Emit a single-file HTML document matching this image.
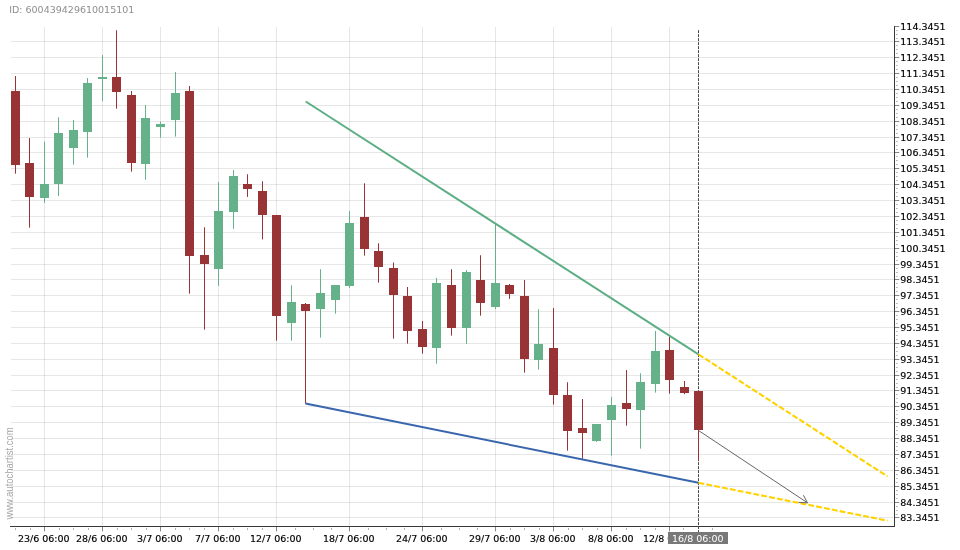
<!DOCTYPE html><html><head><meta charset="utf-8"><title>Chart</title><style>html,body{margin:0;padding:0;background:#fff;overflow:hidden}svg{display:block;will-change:transform}text{font-family:"DejaVu Sans","Liberation Sans",sans-serif}</style></head><body>
<svg width="960" height="550" viewBox="0 0 960 550">
<rect width="960" height="550" fill="#fff"/>
<g shape-rendering="crispEdges" stroke="#000" stroke-opacity="0.095" stroke-width="1">
<line x1="11" y1="41.5" x2="894" y2="41.5"/>
<line x1="11" y1="57.5" x2="894" y2="57.5"/>
<line x1="11" y1="73.5" x2="894" y2="73.5"/>
<line x1="11" y1="89.5" x2="894" y2="89.5"/>
<line x1="11" y1="105.5" x2="894" y2="105.5"/>
<line x1="11" y1="121.5" x2="894" y2="121.5"/>
<line x1="11" y1="137.5" x2="894" y2="137.5"/>
<line x1="11" y1="152.5" x2="894" y2="152.5"/>
<line x1="11" y1="168.5" x2="894" y2="168.5"/>
<line x1="11" y1="184.5" x2="894" y2="184.5"/>
<line x1="11" y1="200.5" x2="894" y2="200.5"/>
<line x1="11" y1="216.5" x2="894" y2="216.5"/>
<line x1="11" y1="232.5" x2="894" y2="232.5"/>
<line x1="11" y1="248.5" x2="894" y2="248.5"/>
<line x1="11" y1="264.5" x2="894" y2="264.5"/>
<line x1="11" y1="279.5" x2="894" y2="279.5"/>
<line x1="11" y1="295.5" x2="894" y2="295.5"/>
<line x1="11" y1="311.5" x2="894" y2="311.5"/>
<line x1="11" y1="327.5" x2="894" y2="327.5"/>
<line x1="11" y1="343.5" x2="894" y2="343.5"/>
<line x1="11" y1="359.5" x2="894" y2="359.5"/>
<line x1="11" y1="375.5" x2="894" y2="375.5"/>
<line x1="11" y1="390.5" x2="894" y2="390.5"/>
<line x1="11" y1="406.5" x2="894" y2="406.5"/>
<line x1="11" y1="422.5" x2="894" y2="422.5"/>
<line x1="11" y1="438.5" x2="894" y2="438.5"/>
<line x1="11" y1="454.5" x2="894" y2="454.5"/>
<line x1="11" y1="470.5" x2="894" y2="470.5"/>
<line x1="11" y1="486.5" x2="894" y2="486.5"/>
<line x1="11" y1="502.5" x2="894" y2="502.5"/>
<line x1="11" y1="517.5" x2="894" y2="517.5"/>
<line x1="44.5" y1="27" x2="44.5" y2="526"/>
<line x1="102.5" y1="27" x2="102.5" y2="526"/>
<line x1="160.5" y1="27" x2="160.5" y2="526"/>
<line x1="218.5" y1="27" x2="218.5" y2="526"/>
<line x1="276.5" y1="27" x2="276.5" y2="526"/>
<line x1="349.5" y1="27" x2="349.5" y2="526"/>
<line x1="422.5" y1="27" x2="422.5" y2="526"/>
<line x1="495.5" y1="27" x2="495.5" y2="526"/>
<line x1="553.5" y1="27" x2="553.5" y2="526"/>
<line x1="611.5" y1="27" x2="611.5" y2="526"/>
<line x1="669.5" y1="27" x2="669.5" y2="526"/>
</g>
<text transform="translate(13.2,519.6) rotate(-90) scale(1,1.17)" font-size="9.5" fill="#a4a4a4" style="font-family:'Liberation Sans',sans-serif">www.autochartist.com</text>
<line x1="698.5" y1="30.2" x2="698.5" y2="532" stroke="#484848" stroke-width="1" stroke-dasharray="2.9 1.1"/>
<g shape-rendering="crispEdges">
<rect x="15.0" y="76.0" width="1" height="97.65" fill="#983336" shape-rendering="auto"/><rect x="11" y="91" width="9" height="74" fill="#983336"/>
<rect x="29.0" y="138.0" width="1" height="89.65" fill="#983336" shape-rendering="auto"/><rect x="25" y="163" width="9" height="34" fill="#983336"/>
<rect x="44.0" y="141.75" width="1" height="61.15" fill="#65B28A" shape-rendering="auto"/><rect x="40" y="184" width="9" height="14" fill="#65B28A"/>
<rect x="58.0" y="117.25" width="1" height="78.65" fill="#65B28A" shape-rendering="auto"/><rect x="54" y="133" width="9" height="51" fill="#65B28A"/>
<rect x="73.0" y="120.0" width="1" height="44.65" fill="#65B28A" shape-rendering="auto"/><rect x="69" y="130" width="9" height="18" fill="#65B28A"/>
<rect x="87.0" y="78.0" width="1" height="79.65" fill="#65B28A" shape-rendering="auto"/><rect x="83" y="83" width="9" height="49" fill="#65B28A"/>
<rect x="102.0" y="55.0" width="1" height="46.15" fill="#65B28A" shape-rendering="auto"/><rect x="98" y="77" width="9" height="2" fill="#65B28A"/>
<rect x="116.0" y="30.25" width="1" height="78.40" fill="#983336" shape-rendering="auto"/><rect x="112" y="77" width="9" height="15" fill="#983336"/>
<rect x="131.0" y="91.0" width="1" height="80.65" fill="#983336" shape-rendering="auto"/><rect x="127" y="95" width="9" height="68" fill="#983336"/>
<rect x="145.0" y="105.0" width="1" height="74.65" fill="#65B28A" shape-rendering="auto"/><rect x="141" y="118" width="9" height="46" fill="#65B28A"/>
<rect x="160.0" y="121.75" width="1" height="15.90" fill="#65B28A" shape-rendering="auto"/><rect x="156" y="124" width="9" height="3" fill="#65B28A"/>
<rect x="175.0" y="72.0" width="1" height="64.65" fill="#65B28A" shape-rendering="auto"/><rect x="171" y="93" width="9" height="27" fill="#65B28A"/>
<rect x="189.0" y="86.0" width="1" height="207.65" fill="#983336" shape-rendering="auto"/><rect x="185" y="91" width="9" height="165" fill="#983336"/>
<rect x="204.0" y="227.25" width="1" height="102.40" fill="#983336" shape-rendering="auto"/><rect x="200" y="255" width="9" height="9" fill="#983336"/>
<rect x="218.0" y="182.0" width="1" height="103.90" fill="#65B28A" shape-rendering="auto"/><rect x="214" y="211" width="9" height="58" fill="#65B28A"/>
<rect x="233.0" y="170.0" width="1" height="58.90" fill="#65B28A" shape-rendering="auto"/><rect x="229" y="176" width="9" height="36" fill="#65B28A"/>
<rect x="247.0" y="174.25" width="1" height="22.65" fill="#983336" shape-rendering="auto"/><rect x="243" y="184" width="9" height="5" fill="#983336"/>
<rect x="262.0" y="181.25" width="1" height="58.15" fill="#983336" shape-rendering="auto"/><rect x="258" y="191" width="9" height="24" fill="#983336"/>
<rect x="276.0" y="215" width="1" height="125.65" fill="#983336" shape-rendering="auto"/><rect x="272" y="215" width="9" height="101" fill="#983336"/>
<rect x="291.0" y="285.25" width="1" height="55.40" fill="#65B28A" shape-rendering="auto"/><rect x="287" y="302" width="9" height="21" fill="#65B28A"/>
<rect x="305.0" y="303.0" width="1" height="100.65" fill="#983336" shape-rendering="auto"/><rect x="301" y="304" width="9" height="7" fill="#983336"/>
<rect x="320.0" y="269.25" width="1" height="68.40" fill="#65B28A" shape-rendering="auto"/><rect x="316" y="293" width="9" height="16" fill="#65B28A"/>
<rect x="335.0" y="285" width="1" height="28.65" fill="#65B28A" shape-rendering="auto"/><rect x="331" y="285" width="9" height="15" fill="#65B28A"/>
<rect x="349.0" y="211.0" width="1" height="76.90" fill="#65B28A" shape-rendering="auto"/><rect x="345" y="223" width="9" height="63" fill="#65B28A"/>
<rect x="364.0" y="183.25" width="1" height="72.40" fill="#983336" shape-rendering="auto"/><rect x="360" y="217" width="9" height="32" fill="#983336"/>
<rect x="378.0" y="243.25" width="1" height="39.40" fill="#983336" shape-rendering="auto"/><rect x="374" y="251" width="9" height="16" fill="#983336"/>
<rect x="393.0" y="262.5" width="1" height="76.15" fill="#983336" shape-rendering="auto"/><rect x="389" y="268" width="9" height="27" fill="#983336"/>
<rect x="407.0" y="287.0" width="1" height="56.65" fill="#983336" shape-rendering="auto"/><rect x="403" y="296" width="9" height="35" fill="#983336"/>
<rect x="422.0" y="321.0" width="1" height="32.65" fill="#983336" shape-rendering="auto"/><rect x="418" y="329" width="9" height="18" fill="#983336"/>
<rect x="436.0" y="278.0" width="1" height="85.65" fill="#65B28A" shape-rendering="auto"/><rect x="432" y="283" width="9" height="65" fill="#65B28A"/>
<rect x="451.0" y="269.25" width="1" height="66.40" fill="#983336" shape-rendering="auto"/><rect x="447" y="285" width="9" height="43" fill="#983336"/>
<rect x="466.0" y="270.0" width="1" height="73.90" fill="#65B28A" shape-rendering="auto"/><rect x="462" y="272" width="9" height="56" fill="#65B28A"/>
<rect x="480.0" y="255.25" width="1" height="60.40" fill="#983336" shape-rendering="auto"/><rect x="476" y="280" width="9" height="23" fill="#983336"/>
<rect x="495.0" y="223.25" width="1" height="85.90" fill="#65B28A" shape-rendering="auto"/><rect x="491" y="283" width="9" height="24" fill="#65B28A"/>
<rect x="509.0" y="284.0" width="1" height="14.90" fill="#983336" shape-rendering="auto"/><rect x="505" y="285" width="9" height="9" fill="#983336"/>
<rect x="524.0" y="280.0" width="1" height="92.65" fill="#983336" shape-rendering="auto"/><rect x="520" y="296" width="9" height="63" fill="#983336"/>
<rect x="538.0" y="309.25" width="1" height="60.40" fill="#65B28A" shape-rendering="auto"/><rect x="534" y="344" width="9" height="16" fill="#65B28A"/>
<rect x="553.0" y="308.0" width="1" height="96.65" fill="#983336" shape-rendering="auto"/><rect x="549" y="348" width="9" height="47" fill="#983336"/>
<rect x="567.0" y="382.25" width="1" height="68.40" fill="#983336" shape-rendering="auto"/><rect x="563" y="395" width="9" height="36" fill="#983336"/>
<rect x="582.0" y="399.0" width="1" height="59.65" fill="#983336" shape-rendering="auto"/><rect x="578" y="428" width="9" height="5" fill="#983336"/>
<rect x="596.0" y="424" width="1" height="17.90" fill="#65B28A" shape-rendering="auto"/><rect x="592" y="424" width="9" height="17" fill="#65B28A"/>
<rect x="611.0" y="396.75" width="1" height="58.90" fill="#65B28A" shape-rendering="auto"/><rect x="607" y="405" width="9" height="15" fill="#65B28A"/>
<rect x="626.0" y="370.0" width="1" height="55.65" fill="#983336" shape-rendering="auto"/><rect x="622" y="403" width="9" height="6" fill="#983336"/>
<rect x="640.0" y="373.25" width="1" height="75.40" fill="#65B28A" shape-rendering="auto"/><rect x="636" y="382" width="9" height="28" fill="#65B28A"/>
<rect x="655.0" y="331.0" width="1" height="61.65" fill="#65B28A" shape-rendering="auto"/><rect x="651" y="351" width="9" height="33" fill="#65B28A"/>
<rect x="669.0" y="336.75" width="1" height="56.90" fill="#983336" shape-rendering="auto"/><rect x="665" y="350" width="9" height="30" fill="#983336"/>
<rect x="684.0" y="381.0" width="1" height="13.15" fill="#983336" shape-rendering="auto"/><rect x="680" y="387" width="9" height="6" fill="#983336"/>
<rect x="698.0" y="391" width="1" height="70.15" fill="#983336" shape-rendering="auto"/><rect x="694" y="391" width="9" height="39" fill="#983336"/>
</g>
<line x1="305.7" y1="101.5" x2="698.5" y2="354.4" stroke="#5DAE85" stroke-width="2"/>
<line x1="305.5" y1="403.6" x2="698.5" y2="482.8" stroke="#3966AC" stroke-width="2"/>
<line x1="698.5" y1="354.4" x2="887.5" y2="476.4" stroke="#FFD200" stroke-width="2.1" stroke-dasharray="5.8 2.2"/>
<line x1="698.5" y1="482.8" x2="887.5" y2="520.7" stroke="#FFD200" stroke-width="2.1" stroke-dasharray="5.8 2.2"/>
<g stroke="#666" stroke-width="1" fill="none"><line x1="698.5" y1="430.5" x2="807.5" y2="502.8"/><polyline points="803.4,495.2 807.5,502.8 798.5,502.4"/></g>
<g shape-rendering="crispEdges">
<rect x="894" y="26" width="1" height="501" fill="#383838"/>
<rect x="10" y="526" width="885" height="1" fill="#383838"/>
<rect x="895" y="26" width="4.3" height="1" fill="#868686" shape-rendering="auto"/>
<rect x="896" y="30" width="1.7" height="1" fill="#b4b4b4" shape-rendering="auto"/>
<rect x="896" y="34" width="1.7" height="1" fill="#b4b4b4" shape-rendering="auto"/>
<rect x="896" y="38" width="1.7" height="1" fill="#b4b4b4" shape-rendering="auto"/>
<rect x="895" y="41" width="4.3" height="1" fill="#868686" shape-rendering="auto"/>
<rect x="896" y="45" width="1.7" height="1" fill="#b4b4b4" shape-rendering="auto"/>
<rect x="896" y="49" width="1.7" height="1" fill="#b4b4b4" shape-rendering="auto"/>
<rect x="896" y="53" width="1.7" height="1" fill="#b4b4b4" shape-rendering="auto"/>
<rect x="895" y="57" width="4.3" height="1" fill="#868686" shape-rendering="auto"/>
<rect x="896" y="61" width="1.7" height="1" fill="#b4b4b4" shape-rendering="auto"/>
<rect x="896" y="65" width="1.7" height="1" fill="#b4b4b4" shape-rendering="auto"/>
<rect x="896" y="69" width="1.7" height="1" fill="#b4b4b4" shape-rendering="auto"/>
<rect x="895" y="73" width="4.3" height="1" fill="#868686" shape-rendering="auto"/>
<rect x="896" y="77" width="1.7" height="1" fill="#b4b4b4" shape-rendering="auto"/>
<rect x="896" y="81" width="1.7" height="1" fill="#b4b4b4" shape-rendering="auto"/>
<rect x="896" y="85" width="1.7" height="1" fill="#b4b4b4" shape-rendering="auto"/>
<rect x="895" y="89" width="4.3" height="1" fill="#868686" shape-rendering="auto"/>
<rect x="896" y="93" width="1.7" height="1" fill="#b4b4b4" shape-rendering="auto"/>
<rect x="896" y="97" width="1.7" height="1" fill="#b4b4b4" shape-rendering="auto"/>
<rect x="896" y="101" width="1.7" height="1" fill="#b4b4b4" shape-rendering="auto"/>
<rect x="895" y="105" width="4.3" height="1" fill="#868686" shape-rendering="auto"/>
<rect x="896" y="109" width="1.7" height="1" fill="#b4b4b4" shape-rendering="auto"/>
<rect x="896" y="113" width="1.7" height="1" fill="#b4b4b4" shape-rendering="auto"/>
<rect x="896" y="117" width="1.7" height="1" fill="#b4b4b4" shape-rendering="auto"/>
<rect x="895" y="121" width="4.3" height="1" fill="#868686" shape-rendering="auto"/>
<rect x="896" y="125" width="1.7" height="1" fill="#b4b4b4" shape-rendering="auto"/>
<rect x="896" y="129" width="1.7" height="1" fill="#b4b4b4" shape-rendering="auto"/>
<rect x="896" y="133" width="1.7" height="1" fill="#b4b4b4" shape-rendering="auto"/>
<rect x="895" y="137" width="4.3" height="1" fill="#868686" shape-rendering="auto"/>
<rect x="896" y="141" width="1.7" height="1" fill="#b4b4b4" shape-rendering="auto"/>
<rect x="896" y="145" width="1.7" height="1" fill="#b4b4b4" shape-rendering="auto"/>
<rect x="896" y="149" width="1.7" height="1" fill="#b4b4b4" shape-rendering="auto"/>
<rect x="895" y="152" width="4.3" height="1" fill="#868686" shape-rendering="auto"/>
<rect x="896" y="156" width="1.7" height="1" fill="#b4b4b4" shape-rendering="auto"/>
<rect x="896" y="160" width="1.7" height="1" fill="#b4b4b4" shape-rendering="auto"/>
<rect x="896" y="164" width="1.7" height="1" fill="#b4b4b4" shape-rendering="auto"/>
<rect x="895" y="168" width="4.3" height="1" fill="#868686" shape-rendering="auto"/>
<rect x="896" y="172" width="1.7" height="1" fill="#b4b4b4" shape-rendering="auto"/>
<rect x="896" y="176" width="1.7" height="1" fill="#b4b4b4" shape-rendering="auto"/>
<rect x="896" y="180" width="1.7" height="1" fill="#b4b4b4" shape-rendering="auto"/>
<rect x="895" y="184" width="4.3" height="1" fill="#868686" shape-rendering="auto"/>
<rect x="896" y="188" width="1.7" height="1" fill="#b4b4b4" shape-rendering="auto"/>
<rect x="896" y="192" width="1.7" height="1" fill="#b4b4b4" shape-rendering="auto"/>
<rect x="896" y="196" width="1.7" height="1" fill="#b4b4b4" shape-rendering="auto"/>
<rect x="895" y="200" width="4.3" height="1" fill="#868686" shape-rendering="auto"/>
<rect x="896" y="204" width="1.7" height="1" fill="#b4b4b4" shape-rendering="auto"/>
<rect x="896" y="208" width="1.7" height="1" fill="#b4b4b4" shape-rendering="auto"/>
<rect x="896" y="212" width="1.7" height="1" fill="#b4b4b4" shape-rendering="auto"/>
<rect x="895" y="216" width="4.3" height="1" fill="#868686" shape-rendering="auto"/>
<rect x="896" y="220" width="1.7" height="1" fill="#b4b4b4" shape-rendering="auto"/>
<rect x="896" y="224" width="1.7" height="1" fill="#b4b4b4" shape-rendering="auto"/>
<rect x="896" y="228" width="1.7" height="1" fill="#b4b4b4" shape-rendering="auto"/>
<rect x="895" y="232" width="4.3" height="1" fill="#868686" shape-rendering="auto"/>
<rect x="896" y="236" width="1.7" height="1" fill="#b4b4b4" shape-rendering="auto"/>
<rect x="896" y="240" width="1.7" height="1" fill="#b4b4b4" shape-rendering="auto"/>
<rect x="896" y="244" width="1.7" height="1" fill="#b4b4b4" shape-rendering="auto"/>
<rect x="895" y="248" width="4.3" height="1" fill="#868686" shape-rendering="auto"/>
<rect x="896" y="252" width="1.7" height="1" fill="#b4b4b4" shape-rendering="auto"/>
<rect x="896" y="256" width="1.7" height="1" fill="#b4b4b4" shape-rendering="auto"/>
<rect x="896" y="260" width="1.7" height="1" fill="#b4b4b4" shape-rendering="auto"/>
<rect x="895" y="264" width="4.3" height="1" fill="#868686" shape-rendering="auto"/>
<rect x="896" y="268" width="1.7" height="1" fill="#b4b4b4" shape-rendering="auto"/>
<rect x="896" y="272" width="1.7" height="1" fill="#b4b4b4" shape-rendering="auto"/>
<rect x="896" y="276" width="1.7" height="1" fill="#b4b4b4" shape-rendering="auto"/>
<rect x="895" y="279" width="4.3" height="1" fill="#868686" shape-rendering="auto"/>
<rect x="896" y="283" width="1.7" height="1" fill="#b4b4b4" shape-rendering="auto"/>
<rect x="896" y="287" width="1.7" height="1" fill="#b4b4b4" shape-rendering="auto"/>
<rect x="896" y="291" width="1.7" height="1" fill="#b4b4b4" shape-rendering="auto"/>
<rect x="895" y="295" width="4.3" height="1" fill="#868686" shape-rendering="auto"/>
<rect x="896" y="299" width="1.7" height="1" fill="#b4b4b4" shape-rendering="auto"/>
<rect x="896" y="303" width="1.7" height="1" fill="#b4b4b4" shape-rendering="auto"/>
<rect x="896" y="307" width="1.7" height="1" fill="#b4b4b4" shape-rendering="auto"/>
<rect x="895" y="311" width="4.3" height="1" fill="#868686" shape-rendering="auto"/>
<rect x="896" y="315" width="1.7" height="1" fill="#b4b4b4" shape-rendering="auto"/>
<rect x="896" y="319" width="1.7" height="1" fill="#b4b4b4" shape-rendering="auto"/>
<rect x="896" y="323" width="1.7" height="1" fill="#b4b4b4" shape-rendering="auto"/>
<rect x="895" y="327" width="4.3" height="1" fill="#868686" shape-rendering="auto"/>
<rect x="896" y="331" width="1.7" height="1" fill="#b4b4b4" shape-rendering="auto"/>
<rect x="896" y="335" width="1.7" height="1" fill="#b4b4b4" shape-rendering="auto"/>
<rect x="896" y="339" width="1.7" height="1" fill="#b4b4b4" shape-rendering="auto"/>
<rect x="895" y="343" width="4.3" height="1" fill="#868686" shape-rendering="auto"/>
<rect x="896" y="347" width="1.7" height="1" fill="#b4b4b4" shape-rendering="auto"/>
<rect x="896" y="351" width="1.7" height="1" fill="#b4b4b4" shape-rendering="auto"/>
<rect x="896" y="355" width="1.7" height="1" fill="#b4b4b4" shape-rendering="auto"/>
<rect x="895" y="359" width="4.3" height="1" fill="#868686" shape-rendering="auto"/>
<rect x="896" y="363" width="1.7" height="1" fill="#b4b4b4" shape-rendering="auto"/>
<rect x="896" y="367" width="1.7" height="1" fill="#b4b4b4" shape-rendering="auto"/>
<rect x="896" y="371" width="1.7" height="1" fill="#b4b4b4" shape-rendering="auto"/>
<rect x="895" y="375" width="4.3" height="1" fill="#868686" shape-rendering="auto"/>
<rect x="896" y="379" width="1.7" height="1" fill="#b4b4b4" shape-rendering="auto"/>
<rect x="896" y="383" width="1.7" height="1" fill="#b4b4b4" shape-rendering="auto"/>
<rect x="896" y="387" width="1.7" height="1" fill="#b4b4b4" shape-rendering="auto"/>
<rect x="895" y="390" width="4.3" height="1" fill="#868686" shape-rendering="auto"/>
<rect x="896" y="394" width="1.7" height="1" fill="#b4b4b4" shape-rendering="auto"/>
<rect x="896" y="398" width="1.7" height="1" fill="#b4b4b4" shape-rendering="auto"/>
<rect x="896" y="402" width="1.7" height="1" fill="#b4b4b4" shape-rendering="auto"/>
<rect x="895" y="406" width="4.3" height="1" fill="#868686" shape-rendering="auto"/>
<rect x="896" y="410" width="1.7" height="1" fill="#b4b4b4" shape-rendering="auto"/>
<rect x="896" y="414" width="1.7" height="1" fill="#b4b4b4" shape-rendering="auto"/>
<rect x="896" y="418" width="1.7" height="1" fill="#b4b4b4" shape-rendering="auto"/>
<rect x="895" y="422" width="4.3" height="1" fill="#868686" shape-rendering="auto"/>
<rect x="896" y="426" width="1.7" height="1" fill="#b4b4b4" shape-rendering="auto"/>
<rect x="896" y="430" width="1.7" height="1" fill="#b4b4b4" shape-rendering="auto"/>
<rect x="896" y="434" width="1.7" height="1" fill="#b4b4b4" shape-rendering="auto"/>
<rect x="895" y="438" width="4.3" height="1" fill="#868686" shape-rendering="auto"/>
<rect x="896" y="442" width="1.7" height="1" fill="#b4b4b4" shape-rendering="auto"/>
<rect x="896" y="446" width="1.7" height="1" fill="#b4b4b4" shape-rendering="auto"/>
<rect x="896" y="450" width="1.7" height="1" fill="#b4b4b4" shape-rendering="auto"/>
<rect x="895" y="454" width="4.3" height="1" fill="#868686" shape-rendering="auto"/>
<rect x="896" y="458" width="1.7" height="1" fill="#b4b4b4" shape-rendering="auto"/>
<rect x="896" y="462" width="1.7" height="1" fill="#b4b4b4" shape-rendering="auto"/>
<rect x="896" y="466" width="1.7" height="1" fill="#b4b4b4" shape-rendering="auto"/>
<rect x="895" y="470" width="4.3" height="1" fill="#868686" shape-rendering="auto"/>
<rect x="896" y="474" width="1.7" height="1" fill="#b4b4b4" shape-rendering="auto"/>
<rect x="896" y="478" width="1.7" height="1" fill="#b4b4b4" shape-rendering="auto"/>
<rect x="896" y="482" width="1.7" height="1" fill="#b4b4b4" shape-rendering="auto"/>
<rect x="895" y="486" width="4.3" height="1" fill="#868686" shape-rendering="auto"/>
<rect x="896" y="490" width="1.7" height="1" fill="#b4b4b4" shape-rendering="auto"/>
<rect x="896" y="494" width="1.7" height="1" fill="#b4b4b4" shape-rendering="auto"/>
<rect x="896" y="498" width="1.7" height="1" fill="#b4b4b4" shape-rendering="auto"/>
<rect x="895" y="502" width="4.3" height="1" fill="#868686" shape-rendering="auto"/>
<rect x="896" y="506" width="1.7" height="1" fill="#b4b4b4" shape-rendering="auto"/>
<rect x="896" y="510" width="1.7" height="1" fill="#b4b4b4" shape-rendering="auto"/>
<rect x="896" y="514" width="1.7" height="1" fill="#b4b4b4" shape-rendering="auto"/>
<rect x="895" y="517" width="4.3" height="1" fill="#868686" shape-rendering="auto"/>
<rect x="44" y="527" width="1" height="4.4" fill="#868686" shape-rendering="auto"/>
<rect x="102" y="527" width="1" height="4.4" fill="#868686" shape-rendering="auto"/>
<rect x="160" y="527" width="1" height="4.4" fill="#868686" shape-rendering="auto"/>
<rect x="218" y="527" width="1" height="4.4" fill="#868686" shape-rendering="auto"/>
<rect x="276" y="527" width="1" height="4.4" fill="#868686" shape-rendering="auto"/>
<rect x="349" y="527" width="1" height="4.4" fill="#868686" shape-rendering="auto"/>
<rect x="422" y="527" width="1" height="4.4" fill="#868686" shape-rendering="auto"/>
<rect x="495" y="527" width="1" height="4.4" fill="#868686" shape-rendering="auto"/>
<rect x="553" y="527" width="1" height="4.4" fill="#868686" shape-rendering="auto"/>
<rect x="611" y="527" width="1" height="4.4" fill="#868686" shape-rendering="auto"/>
<rect x="669" y="527" width="1" height="4.4" fill="#868686" shape-rendering="auto"/>
<rect x="15" y="528" width="1" height="2" fill="#b0b0b0"/>
<rect x="30" y="528" width="1" height="2" fill="#b0b0b0"/>
<rect x="683" y="528" width="1" height="2" fill="#b0b0b0"/>
<rect x="712" y="528" width="1" height="2" fill="#b0b0b0"/>
<rect x="59" y="528" width="1" height="2" fill="#b0b0b0"/>
<rect x="73" y="528" width="1" height="2" fill="#b0b0b0"/>
<rect x="88" y="528" width="1" height="2" fill="#b0b0b0"/>
<rect x="117" y="528" width="1" height="2" fill="#b0b0b0"/>
<rect x="131" y="528" width="1" height="2" fill="#b0b0b0"/>
<rect x="146" y="528" width="1" height="2" fill="#b0b0b0"/>
<rect x="175" y="528" width="1" height="2" fill="#b0b0b0"/>
<rect x="189" y="528" width="1" height="2" fill="#b0b0b0"/>
<rect x="204" y="528" width="1" height="2" fill="#b0b0b0"/>
<rect x="233" y="528" width="1" height="2" fill="#b0b0b0"/>
<rect x="247" y="528" width="1" height="2" fill="#b0b0b0"/>
<rect x="262" y="528" width="1" height="2" fill="#b0b0b0"/>
<rect x="295" y="528" width="1" height="2" fill="#b0b0b0"/>
<rect x="313" y="528" width="1" height="2" fill="#b0b0b0"/>
<rect x="331" y="528" width="1" height="2" fill="#b0b0b0"/>
<rect x="368" y="528" width="1" height="2" fill="#b0b0b0"/>
<rect x="386" y="528" width="1" height="2" fill="#b0b0b0"/>
<rect x="404" y="528" width="1" height="2" fill="#b0b0b0"/>
<rect x="441" y="528" width="1" height="2" fill="#b0b0b0"/>
<rect x="459" y="528" width="1" height="2" fill="#b0b0b0"/>
<rect x="477" y="528" width="1" height="2" fill="#b0b0b0"/>
<rect x="510" y="528" width="1" height="2" fill="#b0b0b0"/>
<rect x="524" y="528" width="1" height="2" fill="#b0b0b0"/>
<rect x="539" y="528" width="1" height="2" fill="#b0b0b0"/>
<rect x="568" y="528" width="1" height="2" fill="#b0b0b0"/>
<rect x="582" y="528" width="1" height="2" fill="#b0b0b0"/>
<rect x="597" y="528" width="1" height="2" fill="#b0b0b0"/>
<rect x="626" y="528" width="1" height="2" fill="#b0b0b0"/>
<rect x="640" y="528" width="1" height="2" fill="#b0b0b0"/>
<rect x="655" y="528" width="1" height="2" fill="#b0b0b0"/>
</g>
<g font-size="9.5" fill="#000" stroke="#000" stroke-width="0.15">
<text x="900.3" y="30">114.3451</text>
<text x="900.3" y="45">113.3451</text>
<text x="900.3" y="61">112.3451</text>
<text x="900.3" y="77">111.3451</text>
<text x="900.3" y="93">110.3451</text>
<text x="900.3" y="109">109.3451</text>
<text x="900.3" y="125">108.3451</text>
<text x="900.3" y="141">107.3451</text>
<text x="900.3" y="156">106.3451</text>
<text x="900.3" y="172">105.3451</text>
<text x="900.3" y="188">104.3451</text>
<text x="900.3" y="204">103.3451</text>
<text x="900.3" y="220">102.3451</text>
<text x="900.3" y="236">101.3451</text>
<text x="900.3" y="252">100.3451</text>
<text x="900.3" y="268">99.3451</text>
<text x="900.3" y="283">98.3451</text>
<text x="900.3" y="299">97.3451</text>
<text x="900.3" y="315">96.3451</text>
<text x="900.3" y="331">95.3451</text>
<text x="900.3" y="347">94.3451</text>
<text x="900.3" y="363">93.3451</text>
<text x="900.3" y="379">92.3451</text>
<text x="900.3" y="394">91.3451</text>
<text x="900.3" y="410">90.3451</text>
<text x="900.3" y="426">89.3451</text>
<text x="900.3" y="442">88.3451</text>
<text x="900.3" y="458">87.3451</text>
<text x="900.3" y="474">86.3451</text>
<text x="900.3" y="490">85.3451</text>
<text x="900.3" y="506">84.3451</text>
<text x="900.3" y="521">83.3451</text>
</g>
<g font-size="9.5" fill="#000" stroke="#000" stroke-width="0.15" text-anchor="middle">
<text x="43.8" y="541.8">23/6 06:00</text>
<text x="101.8" y="541.8">28/6 06:00</text>
<text x="159.8" y="541.8">3/7 06:00</text>
<text x="217.8" y="541.8">7/7 06:00</text>
<text x="275.8" y="541.8">12/7 06:00</text>
<text x="348.8" y="541.8">18/7 06:00</text>
<text x="421.8" y="541.8">24/7 06:00</text>
<text x="494.8" y="541.8">29/7 06:00</text>
<text x="552.8" y="541.8">3/8 06:00</text>
<text x="610.8" y="541.8">8/8 06:00</text>
<text x="668.8" y="541.8">12/8 06:00</text>
</g>
<rect x="668" y="532" width="60" height="12" fill="#787878" shape-rendering="crispEdges"/>
<text x="697.8" y="541.6" font-size="9.5" fill="#fff" text-anchor="middle">16/8 06:00</text>
<text x="9.2" y="13" font-size="9.5" fill="#8e8e8e">ID: 600439429610015101</text>
</svg></body></html>
